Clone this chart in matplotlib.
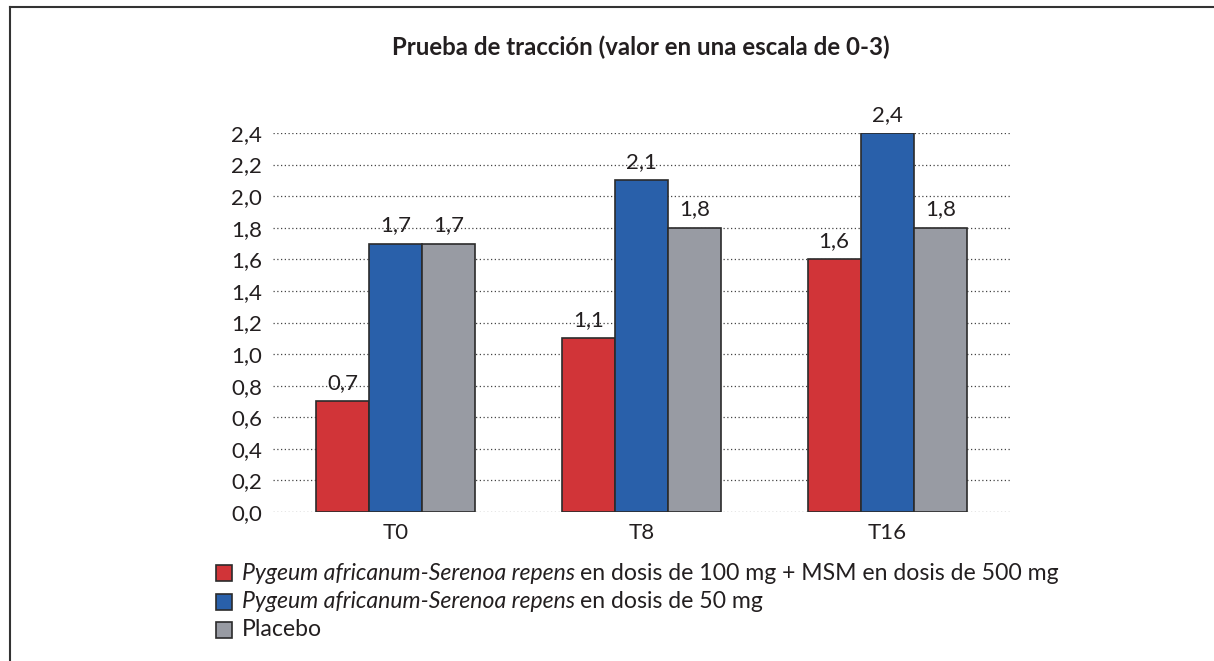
import matplotlib
matplotlib.use("Agg")
import numpy as np
import matplotlib.pyplot as plt
from matplotlib.lines import Line2D
from matplotlib.patches import Rectangle

plt.rcParams['font.family'] = ['Lato', 'DejaVu Sans']

# data
times = ['T0', 'T8', 'T16']
combo = [0.7, 1.1, 1.6]      # Pygeum-Serenoa 100 mg + MSM 500 mg
pygeum50 = [1.7, 2.1, 2.4]   # Pygeum-Serenoa 50 mg
placebo = [1.7, 1.8, 1.8]
yticks = [0.0, 0.2, 0.4, 0.6, 0.8, 1.0, 1.2, 1.4, 1.6, 1.8, 2.0, 2.2, 2.4]
title = 'Prueba de tracción (valor en una escala de 0-3)'
legend_italic = ['Pygeum africanum-Serenoa repens', 'Pygeum africanum-Serenoa repens', '']
legend_plain = ['en dosis de 100 mg + MSM en dosis de 500 mg', 'en dosis de 50 mg', 'Placebo']

colors = ['#D13438', '#2960AA', '#989BA3']
edge = '#2b2b2b'
fs = 16
fs_leg = 16.6

W, H = 1214, 661
fig = plt.figure(figsize=(W / 100, H / 100), dpi=100)
ax = fig.add_axes([273 / W, 1 - 512 / H, (1010 - 273) / W, (512 - 133) / H])

x = np.arange(len(times))
width = 0.216
series = [combo, pygeum50, placebo]
for i, vals in enumerate(series):
    pos = x + (i - 1) * width
    bars = ax.bar(pos, vals, width, color=colors[i], edgecolor=edge, linewidth=1.2, zorder=3)
    for b, v in zip(bars, vals):
        ax.annotate(f'{v:.1f}'.replace('.', ','), (b.get_x() + b.get_width() / 2, v),
                    xytext=(0, 6), textcoords='offset points', ha='center', va='bottom',
                    fontsize=fs, color='#231f20', zorder=4)

ax.set_xlim(-0.5, 2.5)
ax.set_ylim(0, 2.4)
ax.set_yticks(yticks)
ax.set_yticklabels([f'{t:.1f}'.replace('.', ',') for t in yticks])
ax.set_xticks(x)
ax.set_xticklabels(times)
ax.tick_params(axis='both', length=0, labelsize=fs, labelcolor='#231f20')
ax.tick_params(axis='y', pad=8)
ax.tick_params(axis='x', pad=8)
for s in ax.spines.values():
    s.set_visible(False)
ax.yaxis.grid(True, linestyle=(0, (1, 2)), color='#444444', linewidth=0.9, zorder=0)
ax.set_axisbelow(True)

fig.text(641 / W, 1 - 47 / H, title, ha='center', va='center', fontsize=17.3,
         fontweight='bold', color='#231f20')

# legend
fig.canvas.draw()
renderer = fig.canvas.get_renderer()
rows = [573, 602, 630]
for i in range(3):
    yc = 1 - rows[i] / H
    fig.add_artist(Rectangle((216 / W, yc - 8 / H), 16 / W, 16 / H, facecolor=colors[i],
                             edgecolor=edge, linewidth=1.2, transform=fig.transFigure))
    xs = 242 / W
    if legend_italic[i]:
        t = fig.text(xs, yc, legend_italic[i], style='italic', ha='left', va='center',
                     fontsize=fs_leg, color='#231f20')
        bb = t.get_window_extent(renderer)
        xs = (bb.x1 + 5) / W
    fig.text(xs, yc, legend_plain[i], ha='left', va='center', fontsize=fs_leg, color='#231f20')

# frame
fig.add_artist(Line2D([9.5 / W, 9.5 / W], [0, 1 - 7 / H], color='#333333', linewidth=1.5))
fig.add_artist(Line2D([9.5 / W, 1], [1 - 7 / H, 1 - 7 / H], color='#333333', linewidth=1.5))

fig.savefig('out.png', dpi=100)
